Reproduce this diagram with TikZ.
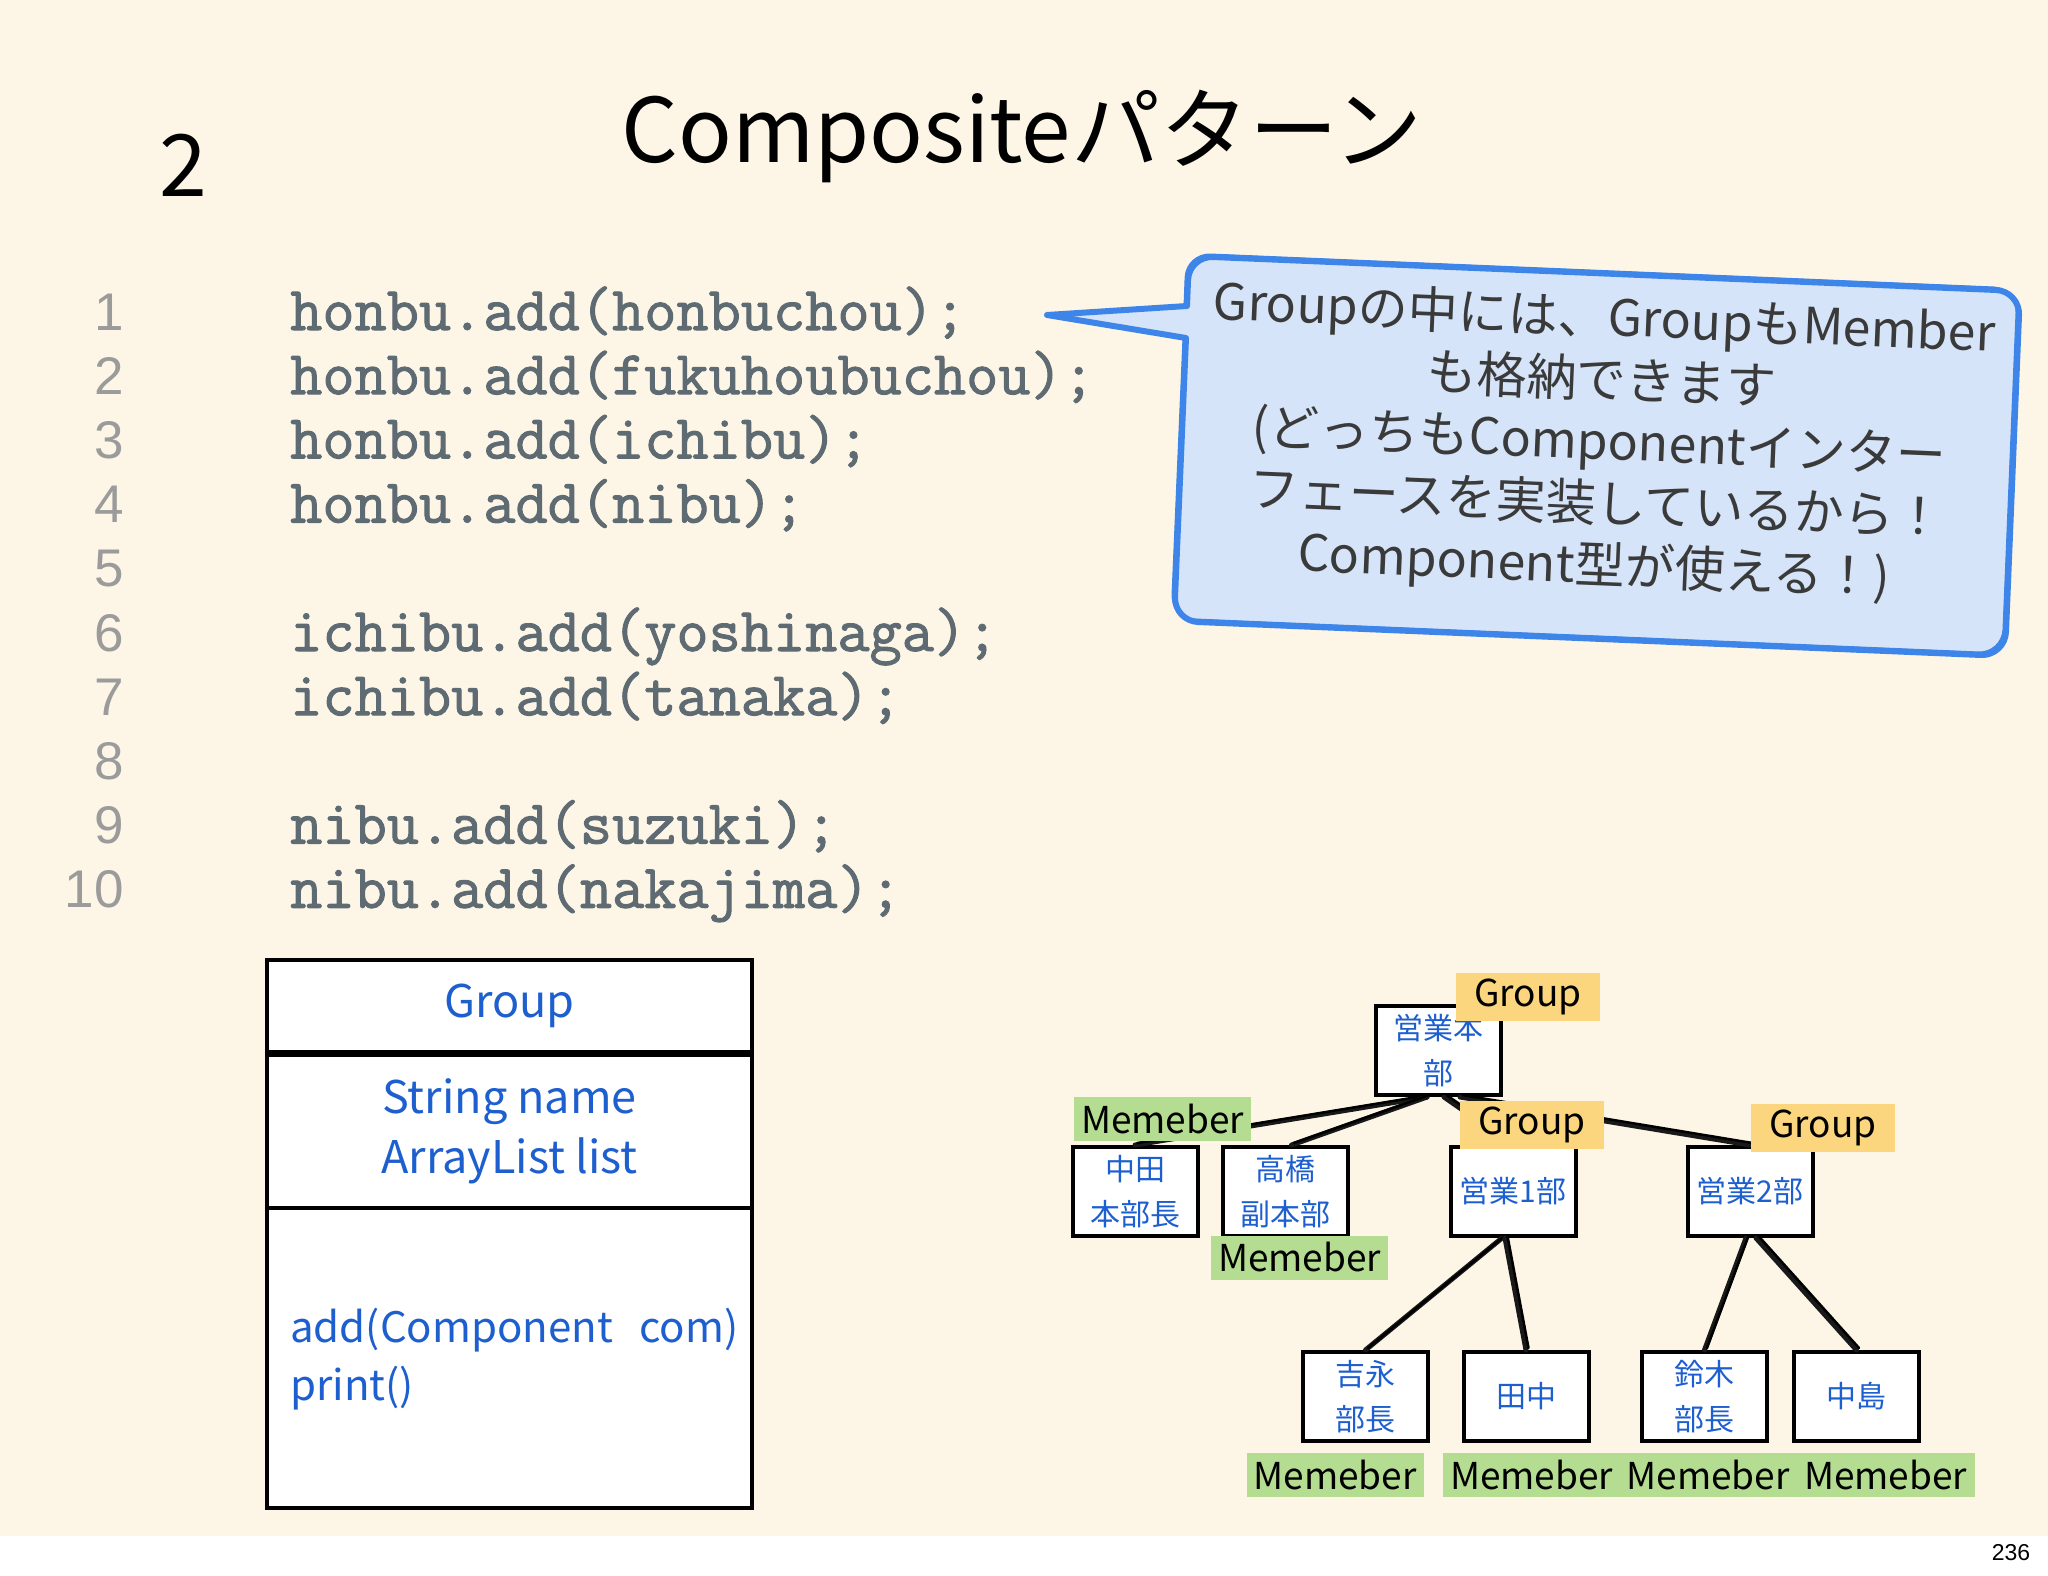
\documentclass[tikz,border=0pt]{standalone}
\usepackage{fontspec}
\setmainfont{Noto Sans CJK JP}
\newfontfamily\codefont[FakeBold=1.6]{Latin Modern Mono}
\newfontfamily\numfont{Liberation Sans}
\usetikzlibrary{calc}
\definecolor{cream}{HTML}{FDF6E6}
\definecolor{bluetext}{HTML}{1E5FCF}
\definecolor{codegray}{HTML}{5F6B73}
\definecolor{numgray}{HTML}{9B9B9B}
\definecolor{bubblefill}{HTML}{D6E4F9}
\definecolor{bubbleline}{HTML}{3E85EA}
\definecolor{bubbletext}{HTML}{3A3A3A}
\definecolor{grpyellow}{HTML}{FBD67E}
\definecolor{memgreen}{HTML}{B5DD92}
\begin{document}
\begin{tikzpicture}[x=1pt,y=-1pt,
  box/.style={draw=black, line width=4pt, fill=white, minimum width=125pt, minimum height=89pt, inner sep=0pt, align=center, text=bluetext, font=\fontsize{30}{45}\selectfont},
  grp/.style={fill=grpyellow, minimum width=144pt, minimum height=48pt, inner sep=0pt, text=black, font=\fontsize{37}{40}\selectfont},
  mem/.style={fill=memgreen, minimum width=177pt, minimum height=44pt, inner sep=0pt, text=black, font=\fontsize{37}{40}\selectfont},
  conn/.style={line width=5pt, black!90, line cap=round},
  connb/.style={line width=2.5pt, black, line cap=round, transform canvas={xshift=2.5pt,yshift=2pt}},
  code/.style={anchor=base west, inner sep=0pt, text=codegray, font=\codefont\fontsize{62.5}{66}\selectfont},
  lnum/.style={anchor=base east, inner sep=0pt, text=numgray, font=\numfont\fontsize{53}{60}\selectfont},
  umlbox/.style={draw=black, line width=4pt, fill=white, minimum width=485pt, inner sep=0pt, text=bluetext, font=\fontsize{45}{60}\selectfont},
]
% background
\useasboundingbox (0,0) rectangle (2048,1576);
\fill[cream] (0,0) rectangle (2048,1536);
\fill[white] (0,1536) rectangle (2048,1576);

% title
\node[anchor=base, inner sep=0pt, font=\fontsize{89}{92}\selectfont] (title) at (1022,163) {Compositeパターン};
\node[anchor=base, inner sep=0pt, font=\fontsize{86}{90}\selectfont] (slidenum) at (183,196) {2};

% code
\foreach \i in {1,...,10} {
  \node[lnum] (n\i) at (124,{330+(\i-1)*64.2}) {\i};
}
\node[code] (c1) at (290,330) {honbu.add(honbuchou);};
\node[code] (c2) at (290,394.2) {honbu.add(fukuhoubuchou);};
\node[code] (c3) at (290,458.4) {honbu.add(ichibu);};
\node[code] (c4) at (290,522.6) {honbu.add(nibu);};
\node[code] (c6) at (290,651) {ichibu.add(yoshinaga);};
\node[code] (c7) at (290,715.2) {ichibu.add(tanaka);};
\node[code] (c9) at (290,843.6) {nibu.add(suzuki);};
\node[code] (c10) at (290,907.8) {nibu.add(nakajima);};

% speech bubble
\draw[line width=6pt, draw=bubbleline, fill=bubblefill, line join=round]
  (1047,315) -- (1187,306) {[rounded corners=24pt] -- (1189,256) -- (2020,291) -- (2005,656) -- (1174,621)} -- (1186,338) -- cycle;
\draw[line width=2pt, draw=bubbleline, line join=round, transform canvas={xshift=-2.5pt,yshift=2.5pt}]
  (1050,318) -- (1187,309) {[rounded corners=24pt] -- (1189,256) -- (2020,291) -- (2005,656) -- (1174,621)} -- (1186,340);
\node[rotate=-2.4, align=center, inner sep=0pt, text=bubbletext, font=\fontsize{50}{62}\selectfont] (btext) at (1599,444)
  {Groupの中には、GroupもMember\\も格納できます\\(どっちもComponentインター\\フェースを実装しているから！\\Component型が使える！)};

% UML class box
\node[umlbox, minimum height=92pt] (uml1) at (509.5,1006) {Group};
\node[umlbox, minimum height=153pt, align=center] (uml2) at (509.5,1131.5) {String name\\ArrayList list};
\node[umlbox, minimum height=300pt] (uml3) at (509.5,1358) {};
\node[anchor=west, align=left, inner sep=0pt, text=bluetext, font=\fontsize{42}{58}\selectfont] (uml3t) at (290,1359) {add(Component\hspace{0.4em} com)\\print()};

% tree boxes
\node[box] (hq) at (1438,1050.5) {営業本\\部};
\node[box] (nakata) at (1135,1191.5) {中田\\本部長};
\node[box] (takahashi) at (1285.5,1191.5) {高橋\\副本部};
\node[box] (ichibu) at (1513,1191.5) {営業1部};
\node[box] (nibu) at (1750,1191.5) {営業2部};
\node[box] (yoshinaga) at (1365.5,1396.5) {吉永\\部長};
\node[box] (tanaka) at (1526,1396.5) {田中};
\node[box] (suzuki) at (1704.5,1396.5) {鈴木\\部長};
\node[box] (nakajima) at (1856.5,1396.5) {中島};

% connectors
\foreach \s/\t/\d in {-11/nakata/0, -11/takahashi/6, 6/ichibu/0, 22/nibu/0} {
  \draw[conn] ($(hq.south)+(\s,0)$) -- ($(\t.north)+(\d,0)$);
  \draw[connb] ($(hq.south)+(\s,0)$) -- ($(\t.north)+(\d,0)$);
}
\foreach \a/\s/\t in {ichibu/-11/yoshinaga, ichibu/-8/tanaka, nibu/-4/suzuki, nibu/6/nakajima} {
  \draw[conn] ($(\a.south)+(\s,0)$) -- (\t.north);
  \draw[connb] ($(\a.south)+(\s,0)$) -- (\t.north);
}

% labels
\node[grp] (g1) at (1528,997) {Group};
\node[grp] (g2) at (1532,1125) {Group};
\node[grp] (g3) at (1823,1128) {Group};
\node[mem] (m1) at (1162.5,1119) {Memeber};
\node[mem] (m2) at (1299.5,1257.5) {Memeber};
\node[mem] (m3) at (1335,1475) {Memeber};
\node[mem, minimum width=177.5pt] (m4) at (1531.5,1475) {Memeber};
\node[mem, minimum width=176.5pt] (m5) at (1708,1475) {Memeber};
\node[mem, minimum width=179.5pt] (m6) at (1885.5,1475) {Memeber};

% page number
\node[inner sep=0pt, font=\numfont\fontsize{23}{25}\selectfont] (page) at (2011,1553) {236};
\end{tikzpicture}
\end{document}
